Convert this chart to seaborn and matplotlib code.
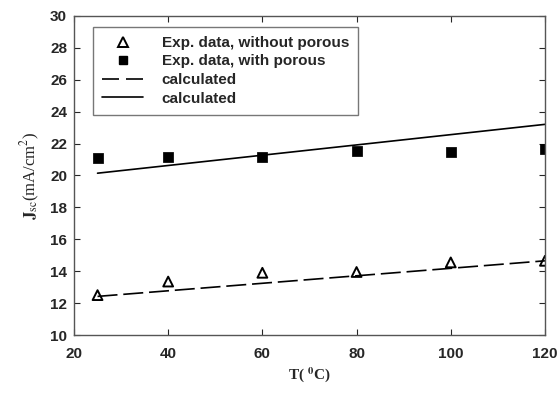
import pandas as pd
import seaborn as sns
import matplotlib.pyplot as plt
from matplotlib.lines import Line2D

# measured points
temp = [25, 40, 60, 80, 100, 120]
jsc_without = [12.5, 13.35, 13.9, 13.95, 14.55, 14.65]
jsc_with = [21.12, 21.17, 21.15, 21.5, 21.47, 21.65]

# calculated lines (end points)
calc_temp = [25, 120]
calc_without = [12.42, 14.65]
calc_with = [20.14, 23.2]

labels = ["Exp. data, without porous", "Exp. data, with porous",
          "calculated", "calculated"]

sns.set_theme(style="ticks")
plt.rcParams['font.family'] = ['Liberation Sans', 'DejaVu Sans']
plt.rcParams['mathtext.fontset'] = 'stix'

exp = pd.DataFrame({"T": temp, "without": jsc_without, "with": jsc_with})
calc = pd.DataFrame({"T": calc_temp, "without": calc_without, "with": calc_with})

fig = plt.figure(figsize=(5.58, 3.96), dpi=100)
ax = fig.add_axes([0.1326, 0.154, 0.844, 0.806])

sns.scatterplot(data=exp, x="T", y="without", marker="^", s=50,
                facecolor="none", edgecolor="black", linewidth=1.4, ax=ax)
sns.scatterplot(data=exp, x="T", y="with", marker="s", s=45,
                color="black", edgecolor="black", ax=ax)
sns.lineplot(data=calc, x="T", y="without", color="black", lw=1.2, ax=ax)
ax.lines[-1].set_dashes((12, 3.5))
sns.lineplot(data=calc, x="T", y="with", color="black", lw=1.2, ax=ax)

ax.set_xlim(20, 120)
ax.set_ylim(10, 30)
ax.set_xticks(range(20, 121, 20))
ax.set_yticks(range(10, 31, 2))
ax.tick_params(direction="in", top=True, right=True, length=4, width=0.8,
               labelsize=11)
ax.tick_params(axis="x", pad=8.5)
ax.tick_params(axis="y", pad=5)
for lab in ax.get_xticklabels() + ax.get_yticklabels():
    lab.set_fontweight("bold")
for sp in ax.spines.values():
    sp.set_color("#555555")
    sp.set_linewidth(1.0)

ax.set_xlabel(r"T( $^{\mathbf{0}}$C)", fontfamily="Liberation Serif",
              fontweight="bold", fontsize=11, labelpad=3)
ax.set_ylabel(r"$\mathbf{J}_{\mathrm{sc}}$(mA/cm$^{2}$)",
              fontfamily="Liberation Serif", fontsize=12, labelpad=6)

handles = [
    Line2D([], [], marker="^", ls="none", mfc="none", mec="black", mew=1.4, ms=7),
    Line2D([], [], marker="s", ls="none", color="black", ms=6),
    Line2D([], [], color="black", lw=1.2, dashes=(10.2, 4.2)),
    Line2D([], [], color="black", lw=1.2),
]
leg = ax.legend(handles, labels, loc="upper left", bbox_to_anchor=(0.04, 0.966),
                borderaxespad=0, frameon=True, fancybox=False,
                edgecolor="#555555", prop={"weight": "bold", "size": 11},
                handlelength=2.7, labelspacing=0.3, borderpad=0.6,
                handletextpad=1.2)
leg.get_frame().set_linewidth(1.0)

fig.savefig("out.png", dpi=100)
